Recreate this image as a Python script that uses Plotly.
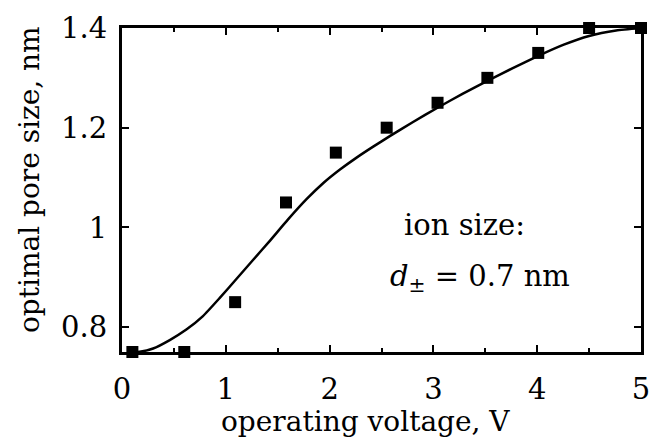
import plotly.graph_objects as go

# data points (squares)
pts_x = [0.1, 0.6, 1.09, 1.58, 2.06, 2.55, 3.04, 3.52, 4.01, 4.5, 5.0]
pts_y = [0.75, 0.75, 0.85, 1.05, 1.15, 1.2, 1.25, 1.3, 1.35, 1.4, 1.4]

# fitted curve
curve_x = [0.1, 0.17, 0.3, 0.46, 0.62, 0.78, 0.94, 1.1, 1.26, 1.42, 1.6, 1.78, 1.94,
           2.1, 2.26, 2.42, 2.58, 2.8, 3.04, 3.28, 3.52, 3.76, 4.01, 4.25, 4.5, 4.76, 5.0]
curve_y = [0.75, 0.7505, 0.757, 0.774, 0.795, 0.822, 0.858, 0.896, 0.934, 0.972, 1.016,
           1.057, 1.089, 1.116, 1.14, 1.162, 1.183, 1.211, 1.24, 1.268, 1.294, 1.319, 1.344,
           1.366, 1.384, 1.395, 1.4]

x_ticks = [0, 1, 2, 3, 4, 5]
y_ticks = [0.8, 1.0, 1.2, 1.4]
y_labels = ["0.8", "1", "1.2", "1.4"]

x_title = "operating voltage, V"
y_title = "optimal pore size, nm"

FONT = "DejaVu Serif"
TICK_FS = 29
TITLE_FS = 28
NOTE_FS = 29

fig = go.Figure()
fig.add_trace(go.Scatter(x=curve_x, y=curve_y, mode="lines",
                         line=dict(color="black", width=2.5, shape="spline", smoothing=0.5),
                         cliponaxis=False, showlegend=False))
fig.add_trace(go.Scatter(x=pts_x, y=pts_y, mode="markers",
                         marker=dict(symbol="square", size=12, color="black"),
                         cliponaxis=False, showlegend=False))

fig.update_layout(
    width=651, height=440,
    margin=dict(l=122, r=10, t=28, b=88),
    plot_bgcolor="white", paper_bgcolor="white",
    font=dict(family=FONT, color="black", size=TITLE_FS),
    xaxis=dict(range=[0, 5], tickvals=x_ticks, ticks="inside", ticklen=7, tickwidth=2,
               tickcolor="black", showline=True, linewidth=3, linecolor="black",
               mirror="ticks", showgrid=False, zeroline=False, automargin=False,
               minor=dict(dtick=0.5, ticks="inside", ticklen=4, tickwidth=2, tickcolor="black"),
               tickfont=dict(family=FONT, size=TICK_FS), ticklabelstandoff=9),
    yaxis=dict(range=[0.75, 1.4], tickvals=y_ticks, ticktext=y_labels, ticks="inside",
               ticklen=7, tickwidth=2, tickcolor="black", showline=True, linewidth=3,
               linecolor="black", mirror="ticks", showgrid=False, zeroline=False,
               automargin=False,
               tickfont=dict(family=FONT, size=TICK_FS), ticklabelstandoff=6),
)

fig.add_annotation(x=0.470, y=-0.213, xref="paper", yref="paper", text=x_title,
                   showarrow=False, font=dict(family=FONT, size=TITLE_FS),
                   xanchor="center", yanchor="middle")
fig.add_annotation(x=-0.177, y=0.531, xref="paper", yref="paper", text=y_title,
                   showarrow=False, textangle=-90, font=dict(family=FONT, size=TITLE_FS),
                   xanchor="center", yanchor="middle")

fig.add_annotation(x=3.3, y=1.004, xref="x", yref="y", text="ion size:",
                   showarrow=False, font=dict(family=FONT, size=NOTE_FS))
fig.add_annotation(x=3.45, y=0.898, xref="x", yref="y",
                   text="<i>d</i><sub>±</sub> = 0.7 nm", showarrow=False,
                   font=dict(family=FONT, size=NOTE_FS))

fig.write_html("out.html")
